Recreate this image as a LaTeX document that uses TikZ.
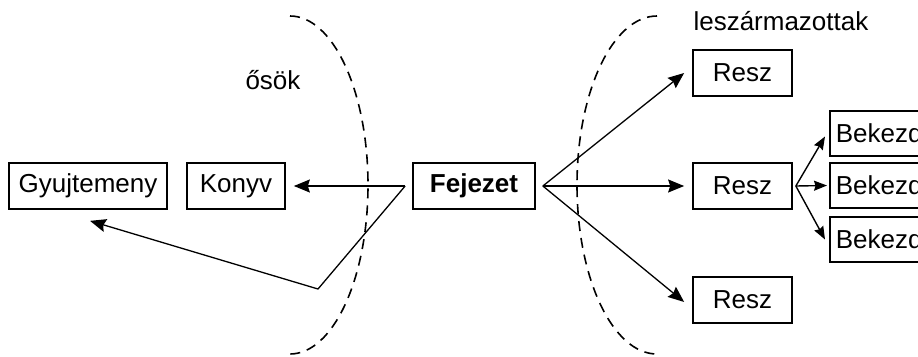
\documentclass[tikz,border=0pt]{standalone}
\usepackage{fontspec}
\setmainfont{Liberation Sans}
\usetikzlibrary{arrows.meta}
\begin{document}
\begin{tikzpicture}[x=1pt,y=-1pt,
  box/.style={draw,line width=1.7pt,minimum height=46pt,inner sep=0pt,
    font=\fontsize{26}{30}\selectfont},
  sub/.style={draw,line width=1.7pt,minimum height=45pt,anchor=west,inner sep=0pt,
    text width=120pt,align=left,font=\fontsize{26}{30}\selectfont},
  link/.style={line width=1.3pt,-{Stealth[length=16pt,width=13pt,inset=2pt]}},
  smalllink/.style={line width=1.4pt,-{Stealth[length=13pt,width=10pt,inset=1.5pt]}},
  group/.style={line width=1.6pt,dash pattern=on 10pt off 7pt},
  label/.style={font=\fontsize{26}{30}\selectfont}]
\useasboundingbox (0,0) rectangle (918,356);
\clip (0,0) rectangle (918,356);

% ancestors and descendants, separated by dashed half ellipses
\draw[group] (290,16) arc[start angle=-90,end angle=90,x radius=78,y radius=169];
\draw[group] (657,16) arc[start angle=-90,end angle=-270,x radius=80,y radius=169];
\node[label] (osok) at (273,80) {ősök};
\node[label,anchor=west] (lesz) at (690,21) {leszármazottak};

% boxes
\node[box,minimum width=158pt] (gy) at (88,186) {Gyujtemeny};
\node[box,minimum width=98pt] (kon) at (236,186) {Konyv};
\node[box,minimum width=122pt] (fej) at (474,186) {\bfseries Fejezet};
\node[box,minimum width=99pt] (r1) at (742.5,73) {Resz};
\node[box,minimum width=99pt] (r2) at (742.5,186) {Resz};
\node[box,minimum width=99pt] (r3) at (742.5,300) {Resz};
\node[sub] (b1) at (829,133.5) {\hspace*{6pt}Bekezdes};
\node[sub] (b2) at (829,185.5) {\hspace*{6pt}Bekezdes};
\node[sub] (b3) at (829,239.5) {\hspace*{6pt}Bekezdes};

% connector end points
\coordinate (fl) at ([xshift=-7pt]fej.west);
\coordinate (fr) at ([xshift=7pt]fej.east);
\coordinate (bend) at (318,289);
\coordinate (rr) at ([xshift=3pt]r2.east);

% connectors
\draw[link] (fl) -- ([xshift=8pt]kon.east);
\draw[link] (fl) -- (bend) -- ([shift={(2pt,-11pt)}]gy.south);
\draw[link] (fr) -- ([xshift=-8pt]r1.west);
\draw[link] (fr) -- ([xshift=-8pt]r2.west);
\draw[link] (fr) -- ([shift={(-8pt,-2pt)}]r3.west);
\draw[smalllink] (rr) -- ([shift={(-4pt,-3pt)}]b1.west);
\draw[smalllink] (rr) -- ([xshift=-2pt]b2.west);
\draw[smalllink] (rr) -- ([shift={(-4pt,0pt)}]b3.west);
\end{tikzpicture}
\end{document}
